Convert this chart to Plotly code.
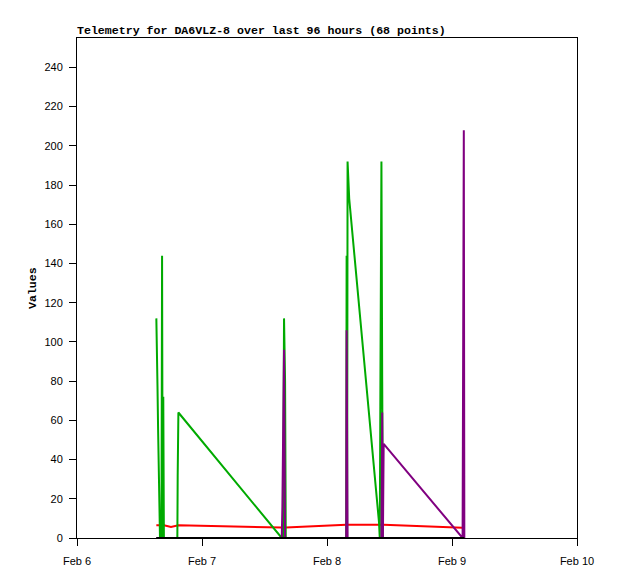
import pandas as pd
import plotly.graph_objects as go

# Timestamps of the telemetry packets
times = [
    "2025-02-06 15:14", "2025-02-06 15:20", "2025-02-06 15:27", "2025-02-06 15:34",
    "2025-02-06 15:41", "2025-02-06 15:48", "2025-02-06 15:56", "2025-02-06 16:13",
    "2025-02-06 16:20", "2025-02-06 16:27", "2025-02-06 16:34", "2025-02-06 16:41",
    "2025-02-06 18:03", "2025-02-06 19:16", "2025-02-06 19:20", "2025-02-06 19:28",
    "2025-02-07 15:19", "2025-02-07 15:26", "2025-02-07 15:33", "2025-02-07 15:45",
    "2025-02-07 15:57", "2025-02-07 16:05",
    "2025-02-08 03:41", "2025-02-08 03:46", "2025-02-08 03:52", "2025-02-08 03:57",
    "2025-02-08 04:16",
    "2025-02-08 09:59", "2025-02-08 10:08", "2025-02-08 10:17", "2025-02-08 10:27",
    "2025-02-08 10:36", "2025-02-08 10:44", "2025-02-08 10:53",
    "2025-02-09 02:02", "2025-02-09 02:09", "2025-02-09 02:16", "2025-02-09 02:22",
]

green_vals = [112, 101, 78, 56, 34, 10, 0, 0, 144, 0, 72, 0,
              0, 0, 32, 64,
              0, 0, 0, 112, 80, 0,
              0, 144, 0, 192, 173,
              8, 0, 97, 192, 80, 0, 0,
              0, 0, 0, 0]

purple_vals = [0, 0, 0, 0, 0, 0, 0, 0, 0, 0, 0, 0,
               0, 0, 0, 0,
               0, 16, 37, 96, 0, 0,
               0, 106, 0, 0, 0,
               0, 0, 0, 0, 64, 0, 48,
               0, 104, 208, 0]

red_vals = ([6.5] * 12 + [5.6, 6.4, 6.5, 6.5] + [5.3] * 6 + [6.8] * 5
            + [6.8] * 7 + [5.2] * 4)

black_vals = [0] * len(times)

x_ticks = ["2025-02-06", "2025-02-07", "2025-02-08", "2025-02-09", "2025-02-10"]
x_tick_text = ["Feb 6", "Feb 7", "Feb 8", "Feb 9", "Feb 10"]
y_ticks = list(range(0, 241, 20))

title_text = "Telemetry for DA6VLZ-8 over last 96 hours (68 points)"

t = pd.to_datetime(times)

W, H = 610, 571  # page body adds an 8px margin

fig = go.Figure()
series = [
    (red_vals, "#FF0000"),
    (green_vals, "#00AA00"),
    (purple_vals, "#800080"),
    (black_vals, "#000000"),
]
for vals, col in series:
    fig.add_trace(go.Scatter(x=t, y=vals, mode="lines",
                             line=dict(color=col, width=2),
                             showlegend=False, hoverinfo="skip"))

axis_font = dict(family="Liberation Sans, Arial, sans-serif", size=11, color="#000000")

fig.update_layout(
    width=W, height=H,
    margin=dict(l=69, r=41, t=30, b=41, pad=0),
    paper_bgcolor="white", plot_bgcolor="white",
    showlegend=False,
    title=dict(text=title_text, x=69 / W, xref="container", xanchor="left",
               y=1 - 22 / H, yref="container", yanchor="middle",
               font=dict(family="Liberation Mono, monospace", size=11.6,
                         color="#000000", weight="bold")),
    xaxis=dict(range=["2025-02-06", "2025-02-10"], tickvals=x_ticks,
               ticktext=x_tick_text, ticks="outside", ticklen=7,
               tickcolor="#000000", showline=True, linecolor="#000000",
               linewidth=1, mirror=True, showgrid=False, zeroline=False,
               tickfont=axis_font, ticklabelstandoff=6),
    yaxis=dict(range=[0, 255], tickvals=y_ticks, ticks="outside", ticklen=7,
               tickcolor="#000000", showline=True, linecolor="#000000",
               linewidth=1, mirror=True, showgrid=False, zeroline=False,
               tickfont=axis_font, ticklabelstandoff=4),
    annotations=[dict(text="Values", textangle=-90, xref="paper", yref="paper",
                      x=(32 - 77) / 500, y=0.5, xanchor="center", yanchor="middle",
                      showarrow=False,
                      font=dict(family="Liberation Mono, monospace", size=11.6,
                                color="#000000", weight="bold"))],
)

fig.write_html("out.html")
